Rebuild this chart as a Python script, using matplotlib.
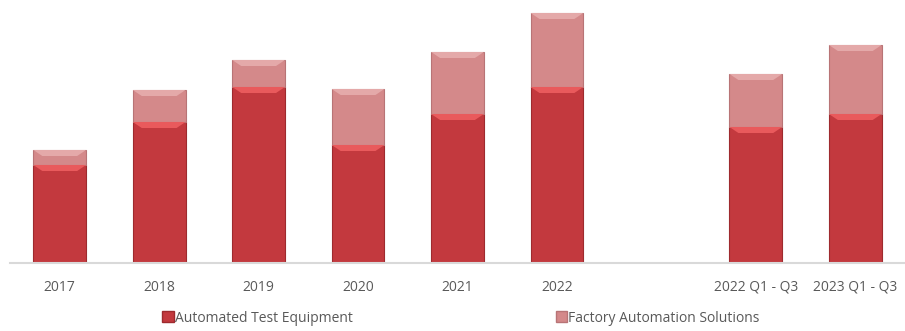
import numpy as np
import matplotlib.pyplot as plt
from matplotlib.patches import Polygon, Patch

# revenue by segment, per year (arbitrary units)
periods = ['2017', '2018', '2019', '2020', '2021', '2022', '', '2022 Q1 - Q3', '2023 Q1 - Q3']
ate = [98, 141, 176, 118, 149, 176, np.nan, 136, 149]
fas = [15, 32, 27, 56, 62, 74, np.nan, 53, 69]

ate_col = '#C3393E'
ate_light = '#E95A5C'
ate_dark = '#9E2A2E'
fas_col = '#D4898A'
fas_light = '#E4A9A9'
fas_dark = '#B87476'

plt.rcParams['font.family'] = ['Open Sans', 'DejaVu Sans']

fig = plt.figure(figsize=(9.05, 3.31), dpi=100)
ax = fig.add_axes([10 / 905, 68 / 331, 895 / 905, 260 / 331])

x = np.arange(len(periods))
w = 0.53
ate_v = np.nan_to_num(np.array(ate, dtype=float))
fas_v = np.nan_to_num(np.array(fas, dtype=float))

ax.bar(x, ate_v, w, color=ate_col, edgecolor=ate_dark, linewidth=0.8, zorder=2)
ax.bar(x, fas_v, w, bottom=ate_v, color=fas_col, edgecolor=fas_dark, linewidth=0.8, zorder=2)


def bevel(x0, x1, y0, y1, light):
    # lighter slanted band along the top edge of a segment
    d = 0.09
    h = 6
    if y1 - y0 < 2 * h:
        h = (y1 - y0) / 2.5
    top = Polygon([(x0, y1), (x1, y1), (x1 - d, y1 - h), (x0 + d, y1 - h)],
                  closed=True, facecolor=light, edgecolor='none', zorder=3)
    ax.add_patch(top)


for i in range(len(periods)):
    if ate_v[i] == 0:
        continue
    x0, x1 = x[i] - w / 2, x[i] + w / 2
    bevel(x0, x1, 0, ate_v[i], ate_light)
    bevel(x0, x1, ate_v[i], ate_v[i] + fas_v[i], fas_light)

ax.set_xlim(-0.5, len(periods) - 0.5)
ax.set_ylim(0, 260)
ax.set_xticks(x)
ax.set_xticklabels(periods)
ax.tick_params(axis='x', length=0, pad=12, labelsize=10, labelcolor='#595959')
ax.set_yticks([])
for s in ['top', 'left', 'right']:
    ax.spines[s].set_visible(False)
ax.spines['bottom'].set_color('#D9D9D9')
ax.spines['bottom'].set_linewidth(1.5)

handles = [Patch(facecolor=ate_col, edgecolor=ate_dark, label='Automated Test Equipment'),
           Patch(facecolor=fas_col, edgecolor=fas_dark, label='Factory Automation Solutions')]
fig.legend(handles=handles, loc='center', bbox_to_anchor=(461 / 905, 1 - 318 / 331), ncol=2,
           frameon=False, fontsize=10, labelcolor='#595959', handlelength=0.8, handleheight=0.8,
           handletextpad=0.1, columnspacing=14.6)

fig.savefig('out.png', dpi=100)
